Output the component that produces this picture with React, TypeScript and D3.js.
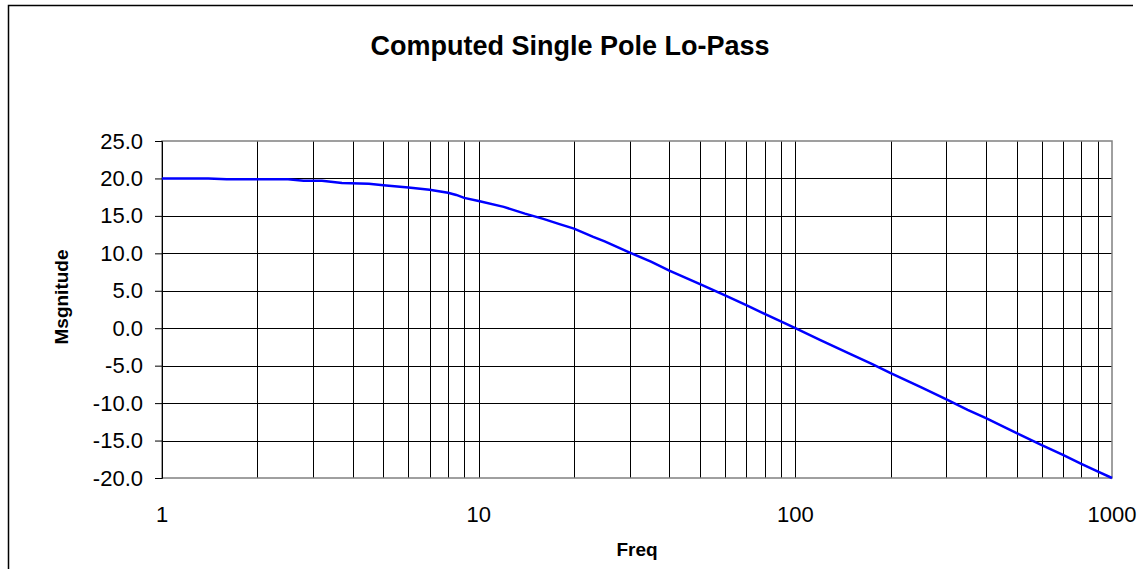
import React, { useEffect, useRef } from "react";
import * as d3 from "d3";

// frequency points (Hz) and magnitude (dB)
const freqs = [
  1, 1.4, 1.6, 2, 2.5, 2.8, 3.2, 3.7, 4.5, 5, 6, 7, 8, 8.5, 9, 10, 12, 14, 16,
  18, 20, 23, 25, 30, 35, 40, 50, 60, 70, 80, 90, 100, 120, 150, 175, 200, 250,
  300, 350, 400, 500, 600, 700, 800, 900, 1000,
];
const magnitude = [
  20.0, 20.0, 19.9, 19.9, 19.9, 19.7, 19.7, 19.4, 19.3, 19.1, 18.8, 18.5, 18.1,
  17.8, 17.4, 17.0, 16.2, 15.3, 14.6, 13.9, 13.3, 12.2, 11.6, 10.1, 8.9, 7.7,
  5.9, 4.4, 3.1, 1.9, 0.9, 0.0, -1.6, -3.5, -4.8, -6.0, -7.9, -9.5, -10.9,
  -12.0, -14.0, -15.6, -16.9, -18.1, -19.1, -20.0,
];
const yTicks = [25, 20, 15, 10, 5, 0, -5, -10, -15, -20];
const xLabels = [1, 10, 100, 1000];

const App = () => {
  const ref = useRef<SVGSVGElement>(null);

  useEffect(() => {
    const svg = d3.select(ref.current);
    svg.selectAll("*").remove();

    const W = 1138;
    const H = 569;
    const margin = { top: 141, right: 26, bottom: 91, left: 162 };
    const width = W - margin.left - margin.right;
    const height = H - margin.top - margin.bottom;
    const font = "'Liberation Sans', Arial, sans-serif";

    // outer chart frame (only top and left edges are in view)
    svg
      .append("path")
      .attr("d", "M8.5,569 V5.5 H1133")
      .attr("fill", "none")
      .attr("stroke", "#000")
      .attr("stroke-width", 1.5);

    const g = svg
      .append("g")
      .attr("transform", `translate(${margin.left},${margin.top})`);

    const x = d3.scaleLog().domain([1, 1000]).range([0, width]);
    const y = d3.scaleLinear().domain([-20, 25]).range([height, 0]);

    // vertical grid (1..9 per decade)
    const minor: number[] = [];
    for (let d = 1; d < 1000; d *= 10) {
      for (let k = 1; k < 10; k++) minor.push(d * k);
    }
    g.selectAll(".vgrid")
      .data(minor.filter((v) => v > 1))
      .enter()
      .append("line")
      .attr("x1", (d) => Math.round(x(d)) + 0.5)
      .attr("x2", (d) => Math.round(x(d)) + 0.5)
      .attr("y1", 0)
      .attr("y2", height)
      .attr("stroke", "#000")
      .attr("stroke-width", 1);

    // horizontal grid
    g.selectAll(".hgrid")
      .data(yTicks.filter((v) => v !== 25 && v !== -20))
      .enter()
      .append("line")
      .attr("x1", 0)
      .attr("x2", width)
      .attr("y1", (d) => Math.round(y(d)) + 0.5)
      .attr("y2", (d) => Math.round(y(d)) + 0.5)
      .attr("stroke", "#000")
      .attr("stroke-width", 1);

    // plot area border
    g.append("rect")
      .attr("x", 0)
      .attr("y", 0)
      .attr("width", width)
      .attr("height", height)
      .attr("fill", "none")
      .attr("stroke", "#808080")
      .attr("stroke-width", 1.5);

    // y axis
    const yAxis = g
      .append("g")
      .call(
        d3
          .axisLeft(y)
          .tickValues(yTicks)
          .tickSize(7)
          .tickPadding(12)
          .tickFormat((d) => (d as number).toFixed(1))
      );
    yAxis.select(".domain").attr("stroke", "#000");
    yAxis.selectAll("line").attr("stroke", "#000");
    yAxis
      .selectAll("text")
      .attr("font-family", font)
      .attr("font-size", 22)
      .attr("fill", "#000");

    // x axis labels
    g.selectAll(".xlab")
      .data(xLabels)
      .enter()
      .append("text")
      .attr("x", (d) => x(d))
      .attr("y", height + 44)
      .attr("text-anchor", "middle")
      .attr("font-family", font)
      .attr("font-size", 22)
      .text((d) => String(d));

    // curve
    const line = d3
      .line<number>()
      .x((_, i) => x(freqs[i]))
      .y((d) => y(d));
    g.append("path")
      .datum(magnitude)
      .attr("d", line)
      .attr("fill", "none")
      .attr("stroke", "#0000ff")
      .attr("stroke-width", 2.5);

    // titles
    svg
      .append("text")
      .attr("x", 570)
      .attr("y", 55)
      .attr("text-anchor", "middle")
      .attr("font-family", font)
      .attr("font-weight", "bold")
      .attr("font-size", 27)
      .text("Computed Single Pole Lo-Pass");

    svg
      .append("text")
      .attr("x", margin.left + width / 2)
      .attr("y", 556)
      .attr("text-anchor", "middle")
      .attr("font-family", font)
      .attr("font-weight", "bold")
      .attr("font-size", 19)
      .text("Freq");

    svg
      .append("text")
      .attr("transform", `translate(68,297) rotate(-90)`)
      .attr("text-anchor", "middle")
      .attr("font-family", font)
      .attr("font-weight", "bold")
      .attr("font-size", 19)
      .text("Msgnitude");
  }, []);

  return (
    <svg
      ref={ref}
      width={1138}
      height={569}
      style={{ position: "absolute", left: 0, top: 0 }}
    />
  );
};

export default App;
